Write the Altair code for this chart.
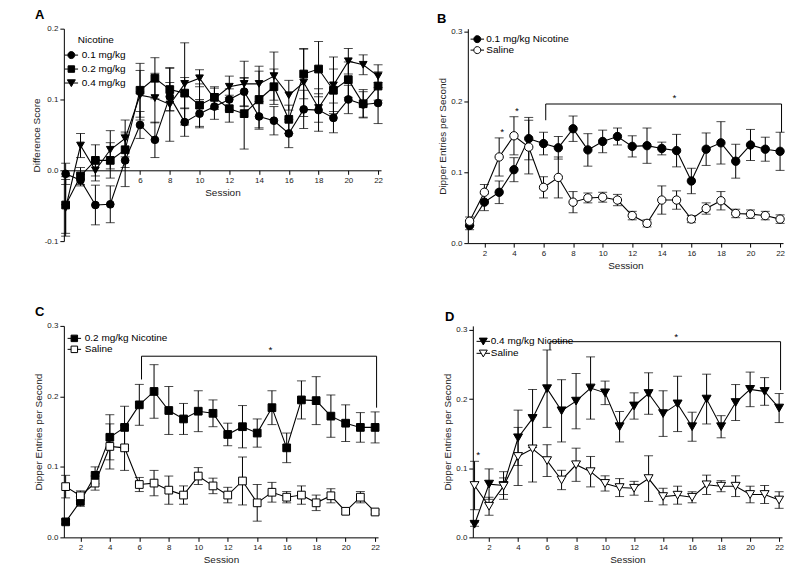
import altair as alt
import pandas as pd

FONT = "Liberation Sans"
SESSIONS = list(range(1, 23))

# ---------------- Panel A: difference scores ----------------
a_names = ["0.1 mg/kg", "0.2 mg/kg", "0.4 mg/kg"]
a_01 = [-0.005, -0.014, -0.049, -0.048, 0.014, 0.064, 0.043, 0.104, 0.068, 0.080, 0.090,
        0.100, 0.111, 0.076, 0.070, 0.052, 0.086, 0.085, 0.074, 0.100, 0.093, 0.095]
a_01_sem = [0.015, 0.008, 0.028, 0.026, 0.037, 0.019, 0.025, 0.020, 0.020, 0.020, 0.018,
            0.015, 0.020, 0.018, 0.020, 0.020, 0.027, 0.030, 0.021, 0.020, 0.018, 0.029]
a_02 = [-0.049, -0.008, 0.014, 0.014, 0.029, 0.113, 0.130, 0.114, 0.109, 0.092, 0.103,
        0.087, 0.080, 0.100, 0.118, 0.072, 0.136, 0.143, 0.113, 0.128, 0.094, 0.119]
a_02_sem = [0.040, 0.012, 0.022, 0.025, 0.025, 0.038, 0.029, 0.030, 0.022, 0.030, 0.015,
            0.019, 0.050, 0.040, 0.025, 0.020, 0.035, 0.039, 0.030, 0.025, 0.020, 0.020]
a_04 = [-0.053, 0.035, 0.000, 0.029, 0.045, 0.106, 0.102, 0.093, 0.122, 0.130, 0.101,
        0.118, 0.122, 0.122, 0.133, 0.106, 0.124, 0.088, 0.120, 0.154, 0.149, 0.133]
a_04_sem = [0.040, 0.017, 0.015, 0.027, 0.026, 0.035, 0.035, 0.052, 0.058, 0.012, 0.015,
            0.015, 0.032, 0.025, 0.034, 0.021, 0.048, 0.020, 0.040, 0.018, 0.014, 0.016]

# ---------------- Panel B: 0.1 mg/kg vs saline ----------------
b_names = ["0.1 mg/kg Nicotine", "Saline"]
b_nic = [0.025, 0.058, 0.072, 0.104, 0.148, 0.141, 0.135, 0.162, 0.132, 0.144, 0.151,
         0.137, 0.138, 0.134, 0.131, 0.088, 0.133, 0.142, 0.116, 0.139, 0.133, 0.130]
b_nic_sem = [0.006, 0.012, 0.016, 0.017, 0.030, 0.016, 0.016, 0.018, 0.023, 0.016, 0.012,
             0.015, 0.025, 0.009, 0.023, 0.018, 0.023, 0.030, 0.024, 0.022, 0.017, 0.027]
b_sal = [0.031, 0.072, 0.122, 0.152, 0.136, 0.079, 0.093, 0.058, 0.064, 0.065, 0.061,
         0.039, 0.028, 0.061, 0.061, 0.034, 0.049, 0.060, 0.042, 0.041, 0.039, 0.034]
b_sal_sem = [0.006, 0.011, 0.027, 0.027, 0.038, 0.015, 0.029, 0.015, 0.007, 0.007, 0.008,
             0.006, 0.005, 0.020, 0.013, 0.005, 0.008, 0.013, 0.006, 0.006, 0.006, 0.006]

# ---------------- Panel C: 0.2 mg/kg vs saline ----------------
c_names = ["0.2 mg/kg Nicotine", "Saline"]
c_nic = [0.022, 0.051, 0.088, 0.142, 0.156, 0.188, 0.207, 0.180, 0.168, 0.179, 0.176,
         0.146, 0.157, 0.148, 0.184, 0.127, 0.195, 0.194, 0.172, 0.162, 0.156, 0.156]
c_nic_sem = [0.003, 0.007, 0.012, 0.032, 0.030, 0.029, 0.038, 0.034, 0.022, 0.029, 0.019,
             0.016, 0.030, 0.020, 0.024, 0.021, 0.027, 0.034, 0.030, 0.026, 0.021, 0.022]
c_sal = [0.072, 0.059, 0.077, 0.129, 0.127, 0.075, 0.077, 0.067, 0.060, 0.087, 0.073,
         0.060, 0.080, 0.049, 0.064, 0.057, 0.060, 0.049, 0.059, 0.037, 0.057, 0.036]
c_sal_sem = [0.016, 0.007, 0.010, 0.032, 0.032, 0.010, 0.018, 0.020, 0.013, 0.012, 0.011,
             0.011, 0.034, 0.026, 0.014, 0.008, 0.013, 0.011, 0.010, 0.004, 0.008, 0.003]

# ---------------- Panel D: 0.4 mg/kg vs saline ----------------
d_names = ["0.4 mg/kg Nicotine", "Saline"]
d_nic = [0.019, 0.077, 0.075, 0.144, 0.172, 0.215, 0.183, 0.197, 0.216, 0.209, 0.160,
         0.190, 0.208, 0.179, 0.193, 0.160, 0.200, 0.160, 0.195, 0.214, 0.211, 0.187]
d_nic_sem = [0.003, 0.022, 0.020, 0.040, 0.042, 0.056, 0.045, 0.040, 0.045, 0.017, 0.022,
             0.019, 0.030, 0.033, 0.040, 0.021, 0.036, 0.016, 0.026, 0.025, 0.020, 0.021]
d_sal = [0.075, 0.045, 0.074, 0.117, 0.128, 0.111, 0.083, 0.105, 0.095, 0.078, 0.072,
         0.071, 0.085, 0.059, 0.061, 0.058, 0.076, 0.074, 0.074, 0.062, 0.062, 0.054]
d_sal_sem = [0.035, 0.013, 0.012, 0.042, 0.048, 0.023, 0.014, 0.024, 0.022, 0.011, 0.013,
             0.010, 0.033, 0.012, 0.013, 0.008, 0.014, 0.008, 0.015, 0.012, 0.013, 0.012]

# ---------------- significance annotations ----------------
b_bracket_x = [6.15, 6.15, 22.1]
b_bracket_x2 = [22.1, 6.15, 22.1]
b_bracket_y = [0.197, 0.197, 0.197]
b_bracket_y2 = [0.197, 0.174, 0.157]
b_star_x = [3.2, 4.2, 14.85]
b_star_y = [0.160, 0.190, 0.208]

c_bracket_x = [6.15, 6.15, 22.1]
c_bracket_x2 = [22.1, 6.15, 22.1]
c_bracket_y = [0.257, 0.257, 0.257]
c_bracket_y2 = [0.257, 0.224, 0.184]
c_star_x = [14.9]
c_star_y = [0.268]

d_bracket_x = [6.2, 6.2, 22.1]
d_bracket_x2 = [22.1, 6.2, 22.1]
d_bracket_y = [0.283, 0.283, 0.283]
d_bracket_y2 = [0.283, 0.271, 0.213]
d_star_x = [1.25, 14.9]
d_star_y = [0.122, 0.292]

# legend symbols: a short line with the marker on it
CIRCLE_LEG = "M-1.35,0H-0.7M0.7,0H1.35M0.7,0A0.7,0.7,0,1,1,-0.7,0A0.7,0.7,0,1,1,0.7,0Z"
SQUARE_LEG = "M-1.35,0H-0.65M0.65,0H1.35M-0.65,-0.65H0.65V0.65H-0.65Z"
TRI_LEG = "M-1.35,0H-0.41M0.41,0H1.35M-0.8,-0.65H0.8L0,0.72Z"


def long_df(names, values, sems):
    rows = []
    for name, vals, ses in zip(names, values, sems):
        for s, v, e in zip(SESSIONS, vals, ses):
            rows.append({"session": s, "value": v, "lo": v - e, "hi": v + e, "series": name})
    return pd.DataFrame(rows)


def panel(df, order, shapes, leg_shapes, fills, msize, ydom, yvals, ytitle, letter,
          letter_dx, letter_dy, width, height, legend_x, legend_y, row_pad, label_off,
          xvals, x_offset=0, legend_title=None, brackets=None, stars=None):
    xs = alt.Scale(domain=[0.88, 22.2], nice=False, zero=False)
    ys = alt.Scale(domain=ydom, nice=False, zero=False)
    xax = alt.Axis(values=xvals, offset=x_offset, format="d")
    yax = alt.Axis(values=yvals,
                   labelExpr="datum.value < 0 ? '-' + format(-datum.value, '.1f') : format(datum.value, '.1f')")

    def X(f):
        return alt.X(f, type="quantitative", scale=xs, axis=xax, title="Session")

    def Y(f):
        return alt.Y(f, type="quantitative", scale=ys, axis=yax, title=ytitle)

    base = alt.Chart(df)
    err = base.mark_rule(color="black", strokeWidth=1).encode(
        x=X("session"), y=Y("lo"), y2="hi", detail="series:N")
    cap_lo = base.mark_tick(orient="horizontal", size=9, thickness=1, color="black").encode(
        x=X("session"), y=Y("lo"))
    cap_hi = base.mark_tick(orient="horizontal", size=9, thickness=1, color="black").encode(
        x=X("session"), y=Y("hi"))
    line = base.mark_line(color="black", strokeWidth=1.1).encode(
        x=X("session"), y=Y("value"), detail="series:N")
    pts = base.mark_point(opacity=1, stroke="black", strokeWidth=1, size=msize).encode(
        x=X("session"), y=Y("value"),
        shape=alt.Shape("series:N", scale=alt.Scale(domain=order, range=shapes), legend=None),
        fill=alt.Fill("series:N", scale=alt.Scale(domain=order, range=fills), legend=None),
    )
    leg_kw = dict(orient="none", legendX=legend_x, legendY=legend_y, symbolSize=100,
                  symbolStrokeColor="black", symbolStrokeWidth=1, symbolOpacity=1,
                  labelFont=FONT, labelFontSize=10, labelColor="black", labelOffset=label_off,
                  rowPadding=row_pad, padding=0, labelLimit=200)
    if legend_title:
        leg_kw.update(title=legend_title, titleFont=FONT, titleFontSize=10,
                      titleFontWeight="normal", titleColor="black", titleAnchor="middle",
                      titlePadding=5)
    else:
        leg_kw.update(title=None)
    leg = alt.Legend(**leg_kw)
    legend_layer = base.mark_point(opacity=0).encode(
        x=X("session"), y=Y("value"),
        shape=alt.Shape("series:N", scale=alt.Scale(domain=order, range=leg_shapes), legend=leg),
        fill=alt.Fill("series:N", scale=alt.Scale(domain=order, range=fills), legend=leg),
        stroke=alt.Stroke("series:N", scale=alt.Scale(domain=order, range=["black"] * len(order)),
                          legend=leg),
    )
    layers = [err, cap_lo, cap_hi, line, pts, legend_layer]
    if brackets is not None:
        bdf = pd.DataFrame({"x": brackets[0], "x2": brackets[1], "y": brackets[2], "y2": brackets[3]})
        layers.append(alt.Chart(bdf).mark_rule(color="black", strokeWidth=1).encode(
            x=X("x"), x2="x2", y=Y("y"), y2="y2"))
    if stars is not None:
        sdf = pd.DataFrame({"x": stars[0], "y": stars[1], "t": ["*"] * len(stars[0])})
        layers.append(alt.Chart(sdf).mark_text(font=FONT, fontSize=10, color="black",
                                               baseline="middle", dy=2).encode(
            x=X("x"), y=Y("y"), text="t:N"))
    ch = alt.layer(*layers).resolve_scale(shape="independent", fill="independent",
                                          stroke="independent")
    return ch.properties(
        width=width, height=height,
        title=alt.TitleParams(letter, anchor="start", frame="group", dx=letter_dx, dy=letter_dy,
                              fontSize=13, fontWeight="bold", font=FONT, color="black",
                              offset=3),
    )


even = list(range(2, 23, 2))

dfA = long_df(a_names, [a_01, a_02, a_04], [a_01_sem, a_02_sem, a_04_sem])
A = panel(dfA, a_names, ["circle", "square", "triangle-down"], [CIRCLE_LEG, SQUARE_LEG, TRI_LEG],
          ["black", "black", "black"], 60, [-0.1, 0.2], [-0.1, 0.0, 0.1, 0.2], "Difference Score",
          "A", -29, 0, 318, 213, 2, 6, 3, 5, list(range(6, 23, 2)), x_offset=-71,
          legend_title="Nicotine")

dfB = long_df(b_names, [b_nic, b_sal], [b_nic_sem, b_sal_sem])
B = panel(dfB, b_names, ["circle", "circle"], [CIRCLE_LEG, CIRCLE_LEG], ["black", "white"], 70,
          [0, 0.3037], [0.0, 0.1, 0.2, 0.3], "Dipper Entries per Second", "B", -31, 2, 316, 215,
          4, 5, -4, 3.5, even,
          brackets=(b_bracket_x, b_bracket_x2, b_bracket_y, b_bracket_y2),
          stars=(b_star_x, b_star_y))

dfC = long_df(c_names, [c_nic, c_sal], [c_nic_sem, c_sal_sem])
C = panel(dfC, c_names, ["square", "square"], [SQUARE_LEG, SQUARE_LEG], ["black", "white"], 60,
          [0, 0.3], [0.0, 0.1, 0.2, 0.3], "Dipper Entries per Second", "C", -29, 0, 315, 212,
          5, 7, -6, 5, even,
          brackets=(c_bracket_x, c_bracket_x2, c_bracket_y, c_bracket_y2),
          stars=(c_star_x, c_star_y))

dfD = long_df(d_names, [d_nic, d_sal], [d_nic_sem, d_sal_sem])
D = panel(dfD, d_names, ["triangle-down", "triangle-down"], [TRI_LEG, TRI_LEG], ["black", "white"], 80,
          [0, 0.3058], [0.0, 0.1, 0.2, 0.3], "Dipper Entries per Second", "D", -28, 1, 310, 212,
          5, 10, -7, 2, even,
          brackets=(d_bracket_x, d_bracket_x2, d_bracket_y, d_bracket_y2),
          stars=(d_star_x, d_star_y))

chart = alt.vconcat(
    alt.hconcat(A, B, spacing=87, bounds="flush"),
    alt.hconcat(C, D, spacing=95, bounds="flush"),
    spacing=36,
).properties(
    padding={"left": 23, "top": 0, "right": 5, "bottom": 5},
    background="white",
).configure_view(stroke=None).configure_axis(
    grid=False, domainColor="black", domainWidth=1, tickColor="black", tickSize=4,
    labelFont=FONT, labelFontSize=8, labelColor="#222", labelPadding=2,
    titleFont=FONT, titleFontWeight="normal", titleColor="#222",
).configure_axisX(titleFontSize=10, titlePadding=3).configure_axisY(titleFontSize=10, titlePadding=3)

chart.save("out.html", embed_options={"renderer": "svg", "actions": False})
